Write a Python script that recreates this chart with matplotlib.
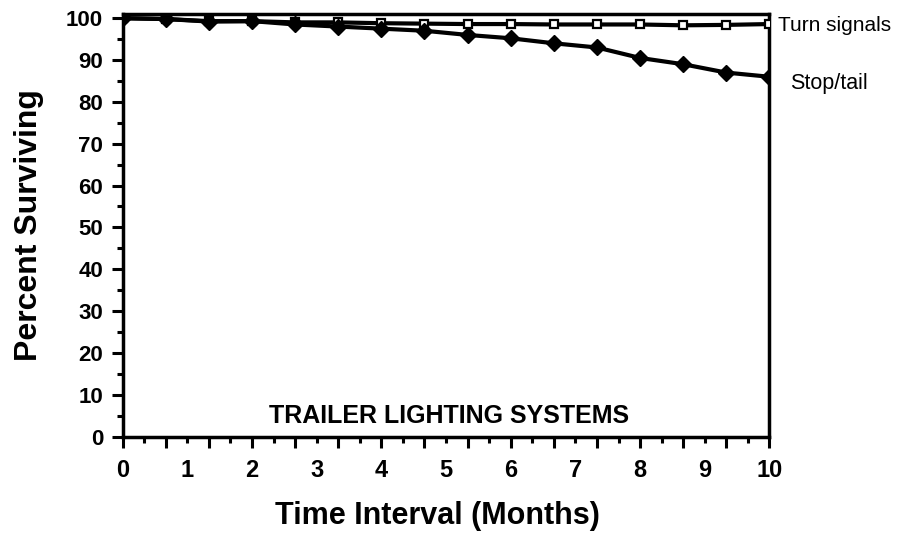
import matplotlib
matplotlib.use('Agg')
import matplotlib.pyplot as plt
from matplotlib.ticker import FixedLocator

# data (x in months, one reading every 2/3 month)
months = [0, 2/3, 4/3, 2, 8/3, 10/3, 4, 14/3, 16/3, 6, 20/3, 22/3, 8, 26/3, 28/3, 10]
turn_signals = [100, 99.8, 99.3, 99.3, 99.0, 99.0, 98.8, 98.7,
                98.6, 98.6, 98.5, 98.5, 98.5, 98.3, 98.4, 98.6]
stop_tail = [100, 99.8, 99.2, 99.3, 98.5, 98.0, 97.5, 97.0,
             96.0, 95.2, 94.0, 93.0, 90.5, 89.0, 87.0, 86.0]
x_labels = [0, 1, 2, 3, 4, 5, 6, 7, 8, 9, 10]
y_labels = [0, 10, 20, 30, 40, 50, 60, 70, 80, 90, 100]

plt.rcParams['font.family'] = ['Liberation Sans', 'DejaVu Sans']

fig = plt.figure(figsize=(9.02, 5.39), dpi=100, facecolor='white')
ax = fig.add_axes([0.136, 0.190, 0.717, 0.784])

ax.plot(months, turn_signals, '-', color='black', linewidth=3,
        marker='s', markersize=6, markerfacecolor='white',
        markeredgecolor='black', markeredgewidth=1.6, zorder=3)
ax.plot(months, stop_tail, '-', color='black', linewidth=3,
        marker='D', markersize=8, markerfacecolor='black',
        markeredgecolor='black', zorder=4)

ax.set_xlim(0, 10)
ax.set_ylim(0, 101)

for s in ax.spines.values():
    s.set_linewidth(2.5)

# x ticks: long every 2/3 month, short in between, no labels here
ax.xaxis.set_major_locator(FixedLocator(months))
ax.xaxis.set_minor_locator(FixedLocator([m + 1/3 for m in months[:-1]]))
ax.tick_params(axis='x', which='major', direction='out', length=8, width=2.2,
               labelbottom=False)
ax.tick_params(axis='x', which='minor', direction='out', length=4, width=2.2)

# y ticks
ax.set_yticks(y_labels)
ax.yaxis.set_minor_locator(FixedLocator([v + 5 for v in y_labels[:-1]]))
ax.tick_params(axis='y', which='major', direction='out', length=8, width=2.2,
               pad=6, labelsize=16)
ax.tick_params(axis='y', which='minor', direction='out', length=4.5, width=2.2)
for t in ax.get_yticklabels():
    t.set_fontweight('bold')

# integer month labels on their own axis
sec = ax.secondary_xaxis('bottom')
sec.set_xticks(x_labels)
sec.tick_params(length=0, pad=16, labelsize=17)
sec.spines['bottom'].set_visible(False)
for t in sec.get_xticklabels():
    t.set_fontweight('bold')

ax.set_ylabel('Percent Surviving', fontsize=23, fontweight='bold')
ax.yaxis.set_label_coords(-0.122, 0.5)
fig.text(0.485, 0.043, 'Time Interval (Months)', ha='center', va='center',
         fontsize=22, fontweight='bold')

ax.text(0.505, 0.049, 'TRAILER LIGHTING SYSTEMS', transform=ax.transAxes,
        ha='center', va='center', fontsize=18, fontweight='bold')

ax.annotate('Turn signals', xy=(10, turn_signals[-1]), xycoords='data',
            xytext=(6, -1), textcoords='offset points', ha='left', va='center',
            fontsize=15, annotation_clip=False)
ax.annotate('Stop/tail', xy=(10, stop_tail[-1]), xycoords='data',
            xytext=(15, -5), textcoords='offset points', ha='left', va='center',
            fontsize=15.5, annotation_clip=False)

fig.savefig('out.png', dpi=100, facecolor='white')
